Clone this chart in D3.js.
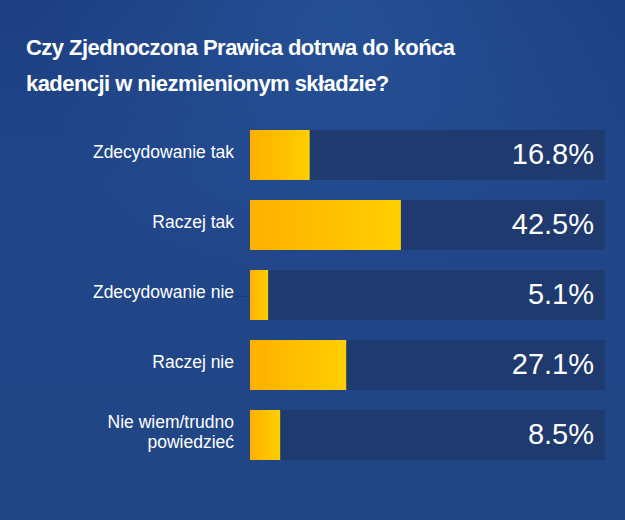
<!DOCTYPE html>
<html>
<head>
<meta charset="utf-8">
<script src="https://cdn.jsdelivr.net/npm/d3@7"></script>
<style>
  body { margin: 0; background: #21468a; }
  svg { display: block; }
</style>
</head>
<body>
<script>
var W = 625, H = 520;

// data
var categories = ["Zdecydowanie tak", "Raczej tak", "Zdecydowanie nie", "Raczej nie", "Nie wiem/trudno\npowiedzieć"];
var values = [16.8, 42.5, 5.1, 27.1, 8.5];
var title = ["Czy Zjednoczona Prawica dotrwa do końca", "kadencji w niezmienionym składzie?"];

var margin = { top: 130, left: 250, right: 20 };
var trackW = 355;

var svg = d3.select("body").append("svg")
    .attr("width", W)
    .attr("height", H);

var defs = svg.append("defs");
var bg = defs.append("linearGradient").attr("id", "bg")
    .attr("x1", 0).attr("y1", 0).attr("x2", 0).attr("y2", 1);
bg.append("stop").attr("offset", "0%").attr("stop-color", "#1d3f82");
bg.append("stop").attr("offset", "35%").attr("stop-color", "#21468a");
bg.append("stop").attr("offset", "100%").attr("stop-color", "#214685");

var glow = defs.append("radialGradient").attr("id", "glow")
    .attr("cx", "0.55").attr("cy", "0.05").attr("r", "0.5");
glow.append("stop").attr("offset", "0%").attr("stop-color", "#2a5aa0").attr("stop-opacity", 0.6);
glow.append("stop").attr("offset", "100%").attr("stop-color", "#2a5aa0").attr("stop-opacity", 0);

var barGrad = defs.append("linearGradient").attr("id", "bar")
    .attr("x1", 0).attr("y1", 0).attr("x2", 1).attr("y2", 0);
barGrad.append("stop").attr("offset", "0%").attr("stop-color", "#ffb000");
barGrad.append("stop").attr("offset", "100%").attr("stop-color", "#ffcf00");

var lineGrad = defs.append("linearGradient").attr("id", "fline")
    .attr("x1", 0).attr("y1", 0).attr("x2", 1).attr("y2", 0);
lineGrad.append("stop").attr("offset", "0%").attr("stop-color", "#1a3770").attr("stop-opacity", 0);
lineGrad.append("stop").attr("offset", "100%").attr("stop-color", "#1a3770").attr("stop-opacity", 0.8);

svg.append("rect").attr("width", W).attr("height", H).attr("fill", "url(#bg)");
svg.append("rect").attr("width", W).attr("height", H).attr("fill", "url(#glow)");

// title
svg.append("text")
    .attr("x", 26)
    .attr("y", 55)
    .style("font", "bold 22px 'Liberation Sans', Arial, sans-serif")
    .style("letter-spacing", "-0.55px")
    .style("fill", "#ffffff")
    .selectAll("tspan")
    .data(title)
    .enter().append("tspan")
    .attr("x", 26)
    .attr("dy", function (d, i) { return i ? 36 : 0; })
    .text(function (d) { return d; });

// scales
var x = d3.scaleLinear().domain([0, 100]).range([0, trackW]);
var y = d3.scaleBand().domain(categories).range([margin.top, margin.top + 330]).paddingInner(20 / 70).paddingOuter(0);

// faint line next to the third row
svg.append("rect")
    .attr("x", 50)
    .attr("y", y(categories[2]) + 26)
    .attr("width", margin.left - 50)
    .attr("height", 1)
    .attr("fill", "url(#fline)");

var rows = svg.selectAll(".row")
    .data(categories)
    .enter().append("g")
    .attr("class", "row")
    .attr("transform", function (d) { return "translate(" + margin.left + "," + y(d) + ")"; });

rows.append("rect")
    .attr("width", x(100))
    .attr("height", y.bandwidth())
    .attr("fill", "#1f3a6f");

rows.append("rect")
    .attr("width", function (d, i) { return x(values[i]); })
    .attr("height", y.bandwidth())
    .attr("fill", "url(#bar)");

rows.append("text")
    .attr("x", x(100) - 11)
    .attr("y", 34)
    .attr("text-anchor", "end")
    .style("font", "29px 'Liberation Sans', Arial, sans-serif")
    .style("fill", "#ffffff")
    .text(function (d, i) { return values[i].toFixed(1) + "%"; });

// category labels
rows.append("text")
    .attr("x", -16)
    .attr("text-anchor", "end")
    .style("font", "17.5px 'Liberation Sans', Arial, sans-serif")
    .style("fill", "#ffffff")
    .each(function (d) {
        var lines = d.split("\n");
        var t = d3.select(this);
        var y0 = lines.length > 1 ? 18 : 28;
        lines.forEach(function (l, j) {
            t.append("tspan").attr("x", -16).attr("y", y0 + j * 20).text(l);
        });
    });
</script>
</body>
</html>
